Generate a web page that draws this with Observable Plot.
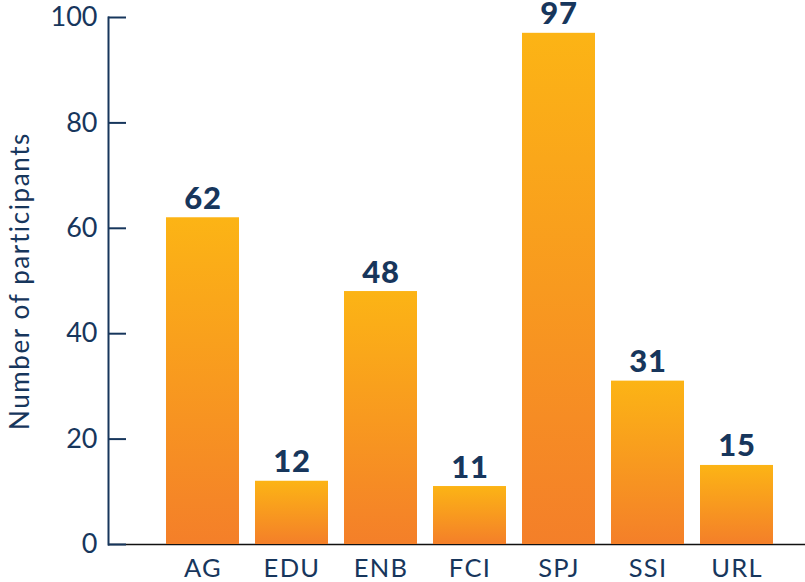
<!DOCTYPE html>
<html>
<head>
<meta charset="utf-8">
<script src="https://cdn.jsdelivr.net/npm/d3@7"></script>
<script src="https://cdn.jsdelivr.net/npm/@observablehq/plot@0.6"></script>
<style>
  html, body { margin: 0; padding: 0; background: #fff; }
  svg { display: block; }
  g[aria-label="y-axis label"] text { letter-spacing: 1.6px; }
  g[aria-label="x-axis tick label"] text { letter-spacing: 1.3px; }
  g.value-labels text { letter-spacing: 0.8px; }
</style>
</head>
<body>
<div id="chart"></div>
<script>
const categories = ["AG", "EDU", "ENB", "FCI", "SPJ", "SSI", "URL"];
const counts = [62, 12, 48, 11, 97, 31, 15];
const yTicks = [0, 20, 40, 60, 80, 100];
const yLabel = "Number of participants";

const data = categories.map((c, i) => ({category: c, value: counts[i]}));
const navy = "#17365c";
const font = "Lato, 'Open Sans', sans-serif";

const gradientDefs = () => {
  const ns = "http://www.w3.org/2000/svg";
  const defs = document.createElementNS(ns, "defs");
  const lg = document.createElementNS(ns, "linearGradient");
  lg.setAttribute("id", "barGrad");
  lg.setAttribute("x1", "0"); lg.setAttribute("y1", "0");
  lg.setAttribute("x2", "0"); lg.setAttribute("y2", "1");
  [["0%", "#fcb415"], ["100%", "#f47f29"]].forEach(([o, c]) => {
    const s = document.createElementNS(ns, "stop");
    s.setAttribute("offset", o);
    s.setAttribute("stop-color", c);
    lg.appendChild(s);
  });
  defs.appendChild(lg);
  return defs;
};

const chart = Plot.plot({
  width: 805,
  height: 582,
  marginLeft: 108,
  marginRight: 0,
  marginTop: 17,
  marginBottom: 38,
  style: {fontFamily: font, color: navy, background: "#fff"},
  x: {domain: categories, range: [155.8, 782.2], paddingInner: 0.184, paddingOuter: 0.092, label: null},
  y: {domain: [0, 100], label: null},
  marks: [
    gradientDefs,
    Plot.ruleY([0], {stroke: "#111", strokeWidth: 1.5}),
    Plot.barY(data, {x: "category", y: "value", fill: "url(#barGrad)"}),
    Plot.frame({anchor: "left", stroke: navy, strokeWidth: 2}),
    Plot.axisY(yTicks, {tickSize: 18, dx: 18, tickFormat: () => "", stroke: navy, strokeWidth: 2, label: null}),
    Plot.axisY(yTicks, {tickSize: 0, tickPadding: 11, fontSize: 27, fill: navy, label: null}),
    Plot.axisY(yTicks, {tickSize: 0, tickFormat: () => "", fontSize: 26, fill: navy, label: yLabel, labelAnchor: "center", labelArrow: "none", labelOffset: 98}),
    Plot.axisX({tickSize: 0, tickPadding: 14, fontSize: 25.5, fill: navy}),
    Plot.text(data, {x: "category", y: "value", text: d => String(d.value), lineAnchor: "bottom", dy: -9, fontSize: 31, fontWeight: 900, fill: navy, className: "value-labels"})
  ]
});
document.getElementById("chart").appendChild(chart);
</script>
</body>
</html>
